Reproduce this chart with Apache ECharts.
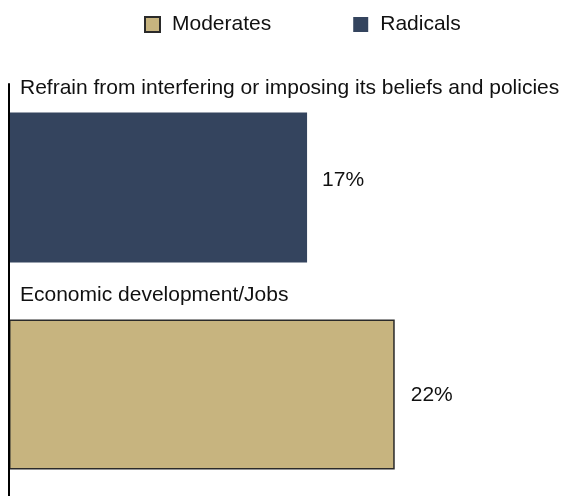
<!DOCTYPE html>
<html>
<head>
<meta charset="utf-8">
<script src="https://cdn.jsdelivr.net/npm/echarts@6/dist/echarts.min.js"></script>
<style>
  html, body { margin: 0; padding: 0; background: #fff; }
  #chart { width: 569px; height: 496px; }
</style>
</head>
<body>
<div id="chart"></div>
<script>
// Survey answers, one category per bar (top to bottom)
const categories = [
  'Refrain from interfering or imposing its beliefs and policies',
  'Economic development/Jobs'
];
const seriesNames = ['Moderates', 'Radicals'];
const moderatesValues = ['-', 22];
const radicalsValues = [17, '-'];

const FONT = '"Liberation Sans", Arial, sans-serif';
const chart = echarts.init(document.getElementById('chart'), null, { renderer: 'canvas' });

chart.setOption({
  animation: false,
  backgroundColor: '#ffffff',
  textStyle: { fontFamily: FONT },
  legend: {
    left: 139,
    top: 9,
    icon: 'rect',
    itemWidth: 15,
    itemHeight: 15,
    itemGap: 82,
    data: seriesNames,
    textStyle: { fontFamily: FONT, fontSize: 21, color: '#111', padding: [0, 0, 0, 7] }
  },
  grid: {
    left: 9, top: 84, width: 526, height: 414,
    containLabel: false,
    outerBoundsMode: 'none'
  },
  xAxis: {
    type: 'value',
    min: 0,
    max: 30,
    show: false
  },
  yAxis: {
    type: 'category',
    inverse: true,
    z: 5,
    data: categories,
    axisLine: { show: true, lineStyle: { color: '#000', width: 2 } },
    axisTick: { show: false },
    splitLine: { show: false },
    axisLabel: {
      inside: true,
      margin: 11,
      align: 'left',
      verticalAlign: 'bottom',
      lineHeight: 198,
      fontFamily: FONT,
      fontSize: 21,
      color: '#111'
    }
  },
  series: [
    {
      name: seriesNames[0],
      type: 'bar',
      data: moderatesValues,
      barWidth: 150,
      barGap: '-100%',
      itemStyle: { color: '#c7b47f', borderColor: '#2a2a2a', borderWidth: 1.5 },
      label: {
        show: true,
        position: 'right',
        distance: 16,
        offset: [0, 1],
        formatter: '{c}%',
        fontFamily: FONT,
        fontSize: 21,
        color: '#111'
      }
    },
    {
      name: seriesNames[1],
      type: 'bar',
      data: radicalsValues,
      barWidth: 150,
      barGap: '-100%',
      itemStyle: { color: '#34445e' },
      label: {
        show: true,
        position: 'right',
        distance: 15,
        offset: [0, -7],
        formatter: '{c}%',
        fontFamily: FONT,
        fontSize: 21,
        color: '#111'
      }
    }
  ]
});
</script>
</body>
</html>
